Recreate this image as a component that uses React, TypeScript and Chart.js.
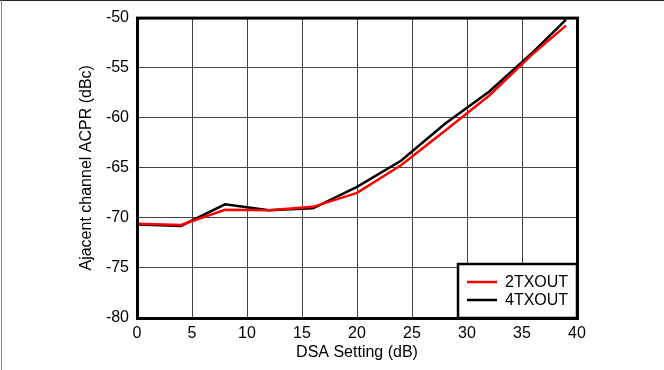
import React, { useEffect, useRef } from "react";
import { Chart, registerables } from "chart.js";

Chart.register(...registerables);

const dsaSetting = [0, 4, 8, 12, 16, 20, 24, 28, 32, 36, 39];
const acpr2TxOut = [-70.6, -70.7, -69.2, -69.25, -68.9, -67.5, -64.75, -61.3, -57.8, -53.6, -50.8];
const acpr4TxOut = [-70.65, -70.8, -68.65, -69.25, -69.05, -66.9, -64.3, -60.6, -57.4, -53.45, -50.2];
const seriesLabels = ["2TXOUT", "4TXOUT"];
const seriesColors = ["#ff0000", "#000000"];

const FONT = "'Liberation Sans', Arial, sans-serif";

const framePlugin = {
  id: "framePlugin",
  beforeDraw(chart: any) {
    const ctx = chart.ctx;
    ctx.save();
    ctx.fillStyle = "#ffffff";
    ctx.fillRect(0, 0, chart.width, chart.height);
    ctx.strokeStyle = "#222";
    ctx.lineWidth = 1;
    ctx.beginPath();
    ctx.moveTo(0, 0.5);
    ctx.lineTo(chart.width, 0.5);
    ctx.stroke();
    ctx.strokeStyle = "#888";
    ctx.beginPath();
    ctx.moveTo(1.5, 0);
    ctx.lineTo(1.5, chart.height);
    ctx.stroke();
    ctx.restore();
  },
  afterDraw(chart: any) {
    const ctx = chart.ctx;
    const a = chart.chartArea;
    ctx.save();
    ctx.strokeStyle = "#000";
    ctx.lineWidth = 3;
    ctx.strokeRect(a.left + 0.5, a.top + 0.5, a.right - a.left, a.bottom - a.top);

    // legend box
    const bw = 119;
    const bh = 54;
    const bx = a.right - bw;
    const by = a.bottom - bh;
    ctx.fillStyle = "#fff";
    ctx.fillRect(bx, by, bw, bh);
    ctx.lineWidth = 2.5;
    ctx.strokeRect(bx, by, bw, bh);
    ctx.font = `16px ${FONT}`;
    ctx.textBaseline = "middle";
    ctx.textAlign = "left";
    seriesLabels.forEach((lab, i) => {
      const y = by + 18 + i * 18;
      ctx.strokeStyle = seriesColors[i];
      ctx.lineWidth = 2.5;
      ctx.beginPath();
      ctx.moveTo(bx + 9, y);
      ctx.lineTo(bx + 39, y);
      ctx.stroke();
      ctx.fillStyle = "#000";
      ctx.fillText(lab, bx + 47, y + 1);
    });
    ctx.restore();
  },
};

export default function App() {
  const ref = useRef<HTMLCanvasElement | null>(null);

  useEffect(() => {
    if (!ref.current) return;
    const toPts = (ys: number[]) => dsaSetting.map((x, i) => ({ x, y: ys[i] }));
    const chart = new Chart(ref.current, {
      type: "line",
      data: {
        datasets: [
          {
            label: seriesLabels[0],
            data: toPts(acpr2TxOut),
            borderColor: seriesColors[0],
            backgroundColor: seriesColors[0],
            borderWidth: 2.5,
            pointRadius: 0,
            tension: 0,
          },
          {
            label: seriesLabels[1],
            data: toPts(acpr4TxOut),
            borderColor: seriesColors[1],
            backgroundColor: seriesColors[1],
            borderWidth: 2.5,
            pointRadius: 0,
            tension: 0,
          },
        ],
      },
      options: {
        responsive: false,
        animation: false,
        devicePixelRatio: 1,
        layout: { padding: { top: 17, right: 87, left: 0, bottom: 0 } },
        plugins: {
          legend: { display: false },
          tooltip: { enabled: false },
        },
        scales: {
          x: {
            type: "linear",
            min: 0,
            max: 40,
            ticks: {
              stepSize: 5,
              color: "#000",
              font: { family: FONT, size: 16 },
              padding: 6,
              maxRotation: 0,
            },
            grid: { color: "#444", lineWidth: 1, drawTicks: false },
            border: { display: false },
            title: {
              display: true,
              text: "DSA Setting (dB)",
              color: "#000",
              font: { family: FONT, size: 16 },
              padding: { top: 0, bottom: 8 },
            },
            afterFit: (s: any) => {
              s.height = 52;
            },
          },
          y: {
            type: "linear",
            min: -80,
            max: -50,
            ticks: {
              stepSize: 5,
              color: "#000",
              font: { family: FONT, size: 16 },
              padding: 8,
            },
            grid: { color: "#444", lineWidth: 1, drawTicks: false },
            border: { display: false },
            title: {
              display: true,
              text: "Ajacent channel ACPR (dBc)",
              color: "#000",
              font: { family: FONT, size: 16 },
              padding: { top: 77, bottom: 0 },
            },
            afterFit: (s: any) => {
              s.width = 137;
            },
          },
        },
      },
      plugins: [framePlugin],
    });
    return () => chart.destroy();
  }, []);

  return (
    <div style={{ position: "fixed", left: 0, top: 0, width: 664, height: 370 }}>
      <canvas ref={ref} width={664} height={370} style={{ display: "block" }} />
    </div>
  );
}
